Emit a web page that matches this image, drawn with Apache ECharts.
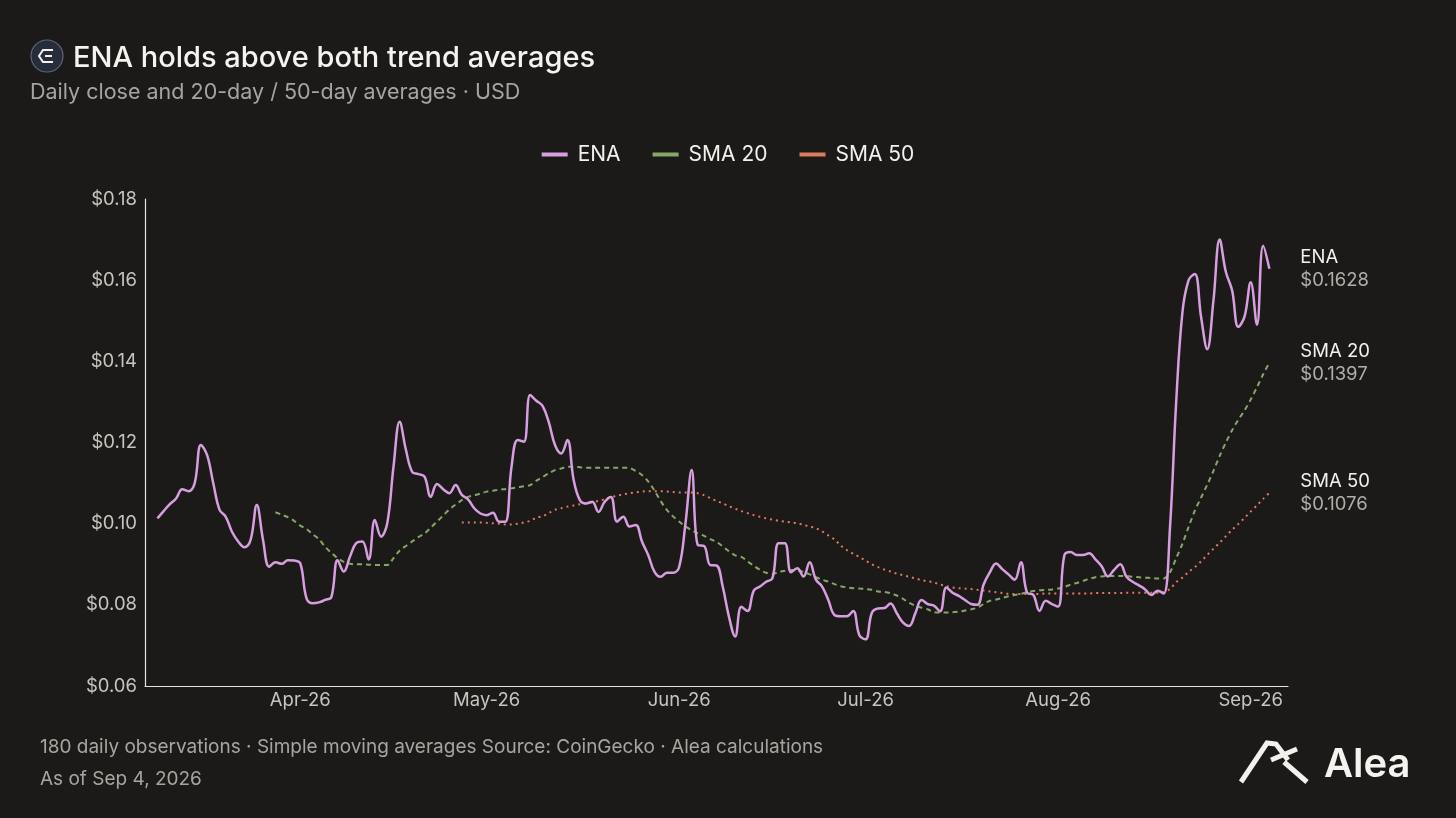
<!DOCTYPE html>
<html lang="en">
<head>
    <meta charset="utf-8">
    <title>ENA trend averages</title>
    <script src="https://cdn.jsdelivr.net/npm/echarts@6.0.0/dist/echarts.min.js"></script>
    <style>
        html, body { margin: 0; padding: 0; background: #1c1a18; }
        #chart { width: 1456px; height: 818px; }
    </style>
</head>
<body>
<div id="chart"></div>
<script>
    // 180 daily closes, first one on Mar 9 2026
    var startDay = '2026-03-09';
    var monthNames = ['Jan', 'Feb', 'Mar', 'Apr', 'May', 'Jun', 'Jul', 'Aug', 'Sep', 'Oct', 'Nov', 'Dec'];
    var yearSuffix = '26';

    var enaClose = [
        0.1013, 0.1031, 0.1048, 0.1062, 0.1085, 0.1080, 0.1100, 0.1194, 0.1169, 0.1099,
        0.1034, 0.1017, 0.0980, 0.0956, 0.0942, 0.0960, 0.1046, 0.0960, 0.0894, 0.0905,
        0.0901, 0.0910, 0.0909, 0.0902, 0.0816, 0.0804, 0.0806, 0.0812, 0.0819, 0.0910,
        0.0882, 0.0919, 0.0952, 0.0956, 0.0912, 0.1009, 0.0968, 0.1001, 0.1140, 0.1251,
        0.1182, 0.1128, 0.1122, 0.1116, 0.1066, 0.1098, 0.1085, 0.1075, 0.1095, 0.1071,
        0.1060, 0.1038, 0.1025, 0.1021, 0.1027, 0.1005, 0.1005, 0.1140, 0.1206, 0.1202,
        0.1317, 0.1303, 0.1290, 0.1250, 0.1194, 0.1173, 0.1206, 0.1108, 0.1058, 0.1050,
        0.1054, 0.1029, 0.1054, 0.1066, 0.1005, 0.1017, 0.0993, 0.0997, 0.0956, 0.0923,
        0.0882, 0.0869, 0.0879, 0.0879, 0.0894, 0.1000, 0.1132, 0.0947, 0.0945, 0.0898,
        0.0897, 0.0845, 0.0771, 0.0722, 0.0795, 0.0785, 0.0835, 0.0845, 0.0857, 0.0865,
        0.0952, 0.0952, 0.0880, 0.0890, 0.0870, 0.0905, 0.0862, 0.0845, 0.0812, 0.0775,
        0.0772, 0.0772, 0.0785, 0.0725, 0.0715, 0.0780, 0.0791, 0.0792, 0.0803, 0.0780,
        0.0757, 0.0748, 0.0779, 0.0812, 0.0802, 0.0798, 0.0784, 0.0843, 0.0830, 0.0822,
        0.0812, 0.0802, 0.0800, 0.0850, 0.0880, 0.0902, 0.0888, 0.0875, 0.0862, 0.0905,
        0.0830, 0.0825, 0.0785, 0.0810, 0.0802, 0.0796, 0.0922, 0.0930, 0.0923, 0.0923,
        0.0927, 0.0912, 0.0895, 0.0870, 0.0886, 0.0900, 0.0869, 0.0857, 0.0848, 0.0838,
        0.0824, 0.0835, 0.0828, 0.0990, 0.1300, 0.1520, 0.1600, 0.1615, 0.1510, 0.1430,
        0.1550, 0.1700, 0.1620, 0.1575, 0.1485, 0.1510, 0.1595, 0.1490, 0.1685, 0.1628
    ];

    var sma20Start = 19;
    var sma20 = [
        0.1028, 0.1022, 0.1016, 0.1007, 0.0995, 0.0987, 0.0974, 0.0962, 0.0943, 0.0928,
        0.0915, 0.0906, 0.0901, 0.0900, 0.0900, 0.0899, 0.0898, 0.0898, 0.0898, 0.0915,
        0.0934, 0.0945, 0.0956, 0.0967, 0.0976, 0.0990, 0.1005, 0.1020, 0.1035, 0.1047,
        0.1058, 0.1066, 0.1070, 0.1074, 0.1079, 0.1081, 0.1084, 0.1085, 0.1087, 0.1090,
        0.1092, 0.1095, 0.1106, 0.1115, 0.1124, 0.1132, 0.1136, 0.1140, 0.1140, 0.1139,
        0.1138, 0.1138, 0.1138, 0.1138, 0.1138, 0.1138, 0.1138, 0.1137, 0.1130, 0.1120,
        0.1104, 0.1082, 0.1056, 0.1034, 0.1018, 0.1005, 0.0993, 0.0984, 0.0976, 0.0970,
        0.0962, 0.0955, 0.0944, 0.0932, 0.0922, 0.0918, 0.0907, 0.0896, 0.0886, 0.0879,
        0.0876, 0.0881, 0.0884, 0.0886, 0.0885, 0.0881, 0.0875, 0.0868, 0.0862, 0.0857,
        0.0851, 0.0846, 0.0843, 0.0841, 0.0840, 0.0839, 0.0837, 0.0833, 0.0832, 0.0829,
        0.0823, 0.0815, 0.0805, 0.0798, 0.0793, 0.0789, 0.0782, 0.0781, 0.0781, 0.0782,
        0.0783, 0.0786, 0.0789, 0.0793, 0.0802, 0.0810, 0.0813, 0.0817, 0.0821, 0.0824,
        0.0827, 0.0831, 0.0834, 0.0836, 0.0837, 0.0838, 0.0840, 0.0844, 0.0850, 0.0854,
        0.0859, 0.0864, 0.0868, 0.0870, 0.0871, 0.0871, 0.0871, 0.0871, 0.0869, 0.0868,
        0.0867, 0.0866, 0.0865, 0.0865, 0.0880, 0.0915, 0.0950, 0.0992, 0.1032, 0.1064,
        0.1096, 0.1130, 0.1167, 0.1200, 0.1230, 0.1256, 0.1279, 0.1306, 0.1336, 0.1368,
        0.1397
    ];

    // 50-day average, from day 50 (index 49) on
    var sma50Start = 49;
    var sma50 = [
        0.1003, 0.1003, 0.1003, 0.1003, 0.1002, 0.1001, 0.1000, 0.0998, 0.0998, 0.1000,
        0.1003, 0.1007, 0.1015, 0.1018, 0.1026, 0.1034, 0.1038, 0.1042, 0.1045, 0.1048,
        0.1050, 0.1053, 0.1056, 0.1060, 0.1065, 0.1069, 0.1072, 0.1075, 0.1077, 0.1079,
        0.1080, 0.1080, 0.1080, 0.1079, 0.1078, 0.1077, 0.1077, 0.1077, 0.1075, 0.1070,
        0.1063, 0.1056, 0.1050, 0.1043, 0.1037, 0.1031, 0.1026, 0.1021, 0.1017, 0.1013,
        0.1010, 0.1007, 0.1005, 0.1003, 0.1001, 0.0997, 0.0993, 0.0989, 0.0981, 0.0971,
        0.0961, 0.0946, 0.0935, 0.0926, 0.0918, 0.0909, 0.0900, 0.0893, 0.0887, 0.0882,
        0.0877, 0.0873, 0.0869, 0.0865, 0.0861, 0.0858, 0.0855, 0.0850, 0.0846, 0.0843,
        0.0841, 0.0840, 0.0839, 0.0837, 0.0835, 0.0833, 0.0831, 0.0829, 0.0827, 0.0827,
        0.0827, 0.0827, 0.0827, 0.0827, 0.0828, 0.0828, 0.0828, 0.0828, 0.0828, 0.0828,
        0.0828, 0.0828, 0.0829, 0.0829, 0.0829, 0.0829, 0.0829, 0.0830, 0.0830, 0.0830,
        0.0830, 0.0830, 0.0830, 0.0831, 0.0839, 0.0856, 0.0867, 0.0881, 0.0893, 0.0907,
        0.0923, 0.0938, 0.0953, 0.0969, 0.0985, 0.0999, 0.1014, 0.1030, 0.1045, 0.1061,
        0.1076
    ];

    var yTicks = [0.06, 0.08, 0.10, 0.12, 0.14, 0.16, 0.18];

    var DAY = 86400000;
    var t0 = +new Date(startDay + 'T00:00:00');

    function pairs(values, offset) {
        var out = [];
        for (var i = 0; i < values.length; i++) {
            out.push([t0 + (i + offset) * DAY, values[i]]);
        }
        return out;
    }

    var font = 'Inter, "Noto Sans", sans-serif';

    var chartDom = document.getElementById('chart');
    var myChart = echarts.init(chartDom, null, { renderer: 'canvas' });

    function endLabel() {
        return {
            show: true,
            distance: 31,
            formatter: function (p) {
                return '{n|' + p.seriesName + '}\n{v|$' + p.value[1].toFixed(4) + '}';
            },
            rich: {
                n: { color: '#f4f0ec', fontSize: 18.5, fontFamily: font, lineHeight: 23 },
                v: { color: '#b3ada7', fontSize: 18.5, fontFamily: font, lineHeight: 23 }
            }
        };
    }

    var option = {
        backgroundColor: '#1c1a18',
        animation: false,
        textStyle: { fontFamily: font },
        grid: { left: 145, right: 168, top: 199, bottom: 132 },
        legend: {
            top: 139,
            left: 'center',
            icon: 'rect',
            itemWidth: 26,
            itemHeight: 4,
            itemGap: 32,
            textStyle: { color: '#f4f0ec', fontSize: 21, fontFamily: font, padding: [0, 0, 0, 5] },
            data: ['ENA', 'SMA 20', 'SMA 50']
        },
        xAxis: {
            type: 'time',
            min: t0 - 2 * DAY,
            max: t0 + 182 * DAY,
            minInterval: 28 * DAY,
            maxInterval: 31 * DAY,
            axisLine: { show: true, lineStyle: { color: '#e6e2de', width: 1.2 } },
            axisTick: { show: false },
            splitLine: { show: false },
            axisLabel: {
                color: '#c9c3bd',
                fontSize: 18.5,
                fontFamily: font,
                margin: 5,
                showMinLabel: false,
                showMaxLabel: false,
                formatter: function (v) {
                    var d = new Date(v);
                    return monthNames[d.getMonth()] + '-' + yearSuffix;
                }
            }
        },
        yAxis: {
            type: 'value',
            min: yTicks[0],
            max: yTicks[yTicks.length - 1],
            interval: 0.02,
            axisLine: { show: true, lineStyle: { color: '#e6e2de', width: 1.2 } },
            axisTick: { show: false },
            splitLine: { show: false },
            axisLabel: {
                color: '#c9c3bd',
                fontSize: 18.5,
                fontFamily: font,
                margin: 8,
                formatter: function (v) { return '$' + v.toFixed(2); }
            }
        },
        series: [
            {
                name: 'SMA 50',
                type: 'line',
                data: pairs(sma50, sma50Start),
                showSymbol: false,
                smooth: 0.3,
                color: '#e07c5e',
                lineStyle: { width: 2, type: [2, 4], color: '#e07c5e' },
                endLabel: endLabel(),
                z: 2
            },
            {
                name: 'SMA 20',
                type: 'line',
                data: pairs(sma20, sma20Start),
                showSymbol: false,
                smooth: 0.3,
                color: '#84a865',
                lineStyle: { width: 2, type: [5, 4], color: '#84a865' },
                endLabel: endLabel(),
                z: 3
            },
            {
                name: 'ENA',
                type: 'line',
                data: pairs(enaClose, 0),
                showSymbol: false,
                smooth: 0.4,
                color: '#d79ee0',
                lineStyle: { width: 2.5, color: '#d79ee0' },
                endLabel: endLabel(),
                z: 4
            }
        ],
        graphic: [
            // coin badge
            {
                type: 'circle',
                shape: { cx: 47, cy: 56, r: 16 },
                style: { fill: '#262c3a', stroke: '#5d6576', lineWidth: 1.2 }
            },
            {
                type: 'polyline',
                shape: { points: [[53, 50], [43, 50], [39, 56], [43, 62], [53, 62]] },
                style: { fill: null, stroke: '#f4f0ec', lineWidth: 2 }
            },
            {
                type: 'line',
                shape: { x1: 45, y1: 56, x2: 52, y2: 56 },
                style: { stroke: '#f4f0ec', lineWidth: 2 }
            },
            {
                type: 'text',
                left: 73, top: 44,
                style: { text: 'ENA holds above both trend averages', fill: '#f6f2ee', font: '500 29px ' + font }
            },
            {
                type: 'text',
                left: 30, top: 82,
                style: { text: 'Daily close and 20-day / 50-day averages · USD', fill: '#a9a39d', font: '21.5px ' + font }
            },
            {
                type: 'text',
                left: 40, top: 738,
                style: { text: '180 daily observations · Simple moving averages Source: CoinGecko · Alea calculations', fill: '#aaa49e', font: '19px ' + font }
            },
            {
                type: 'text',
                left: 40, top: 770,
                style: { text: 'As of Sep 4, 2026', fill: '#aaa49e', font: '19px ' + font }
            },
            // Alea mark
            {
                type: 'polyline',
                shape: { points: [[1241, 782], [1267, 743], [1276, 744], [1288, 760]] },
                style: { fill: null, stroke: '#f4f0ec', lineWidth: 5, lineJoin: 'miter' }
            },
            {
                type: 'line',
                shape: { x1: 1271, y1: 760, x2: 1297, y2: 749 },
                style: { stroke: '#f4f0ec', lineWidth: 5 }
            },
            {
                type: 'line',
                shape: { x1: 1284, y1: 762, x2: 1307, y2: 782 },
                style: { stroke: '#f4f0ec', lineWidth: 5 }
            },
            {
                type: 'text',
                left: 1324, top: 745,
                style: { text: 'Alea', fill: '#f6f2ee', font: '600 40px ' + font }
            }
        ]
    };

    myChart.setOption(option);
    window.onresize = myChart.resize;
</script>
</body>
</html>
